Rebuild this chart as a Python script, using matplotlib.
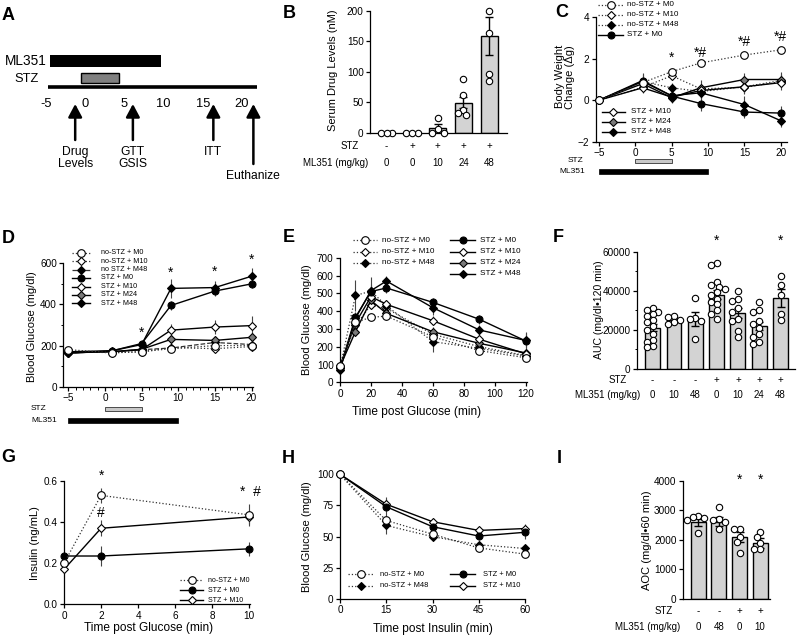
import matplotlib.pyplot as plt
import matplotlib.transforms as mtransforms
from matplotlib.lines import Line2D
from matplotlib.patches import Rectangle
from matplotlib.ticker import MultipleLocator
import numpy as np

plt.rcParams['font.family'] = ['Liberation Sans', 'DejaVu Sans']

# ---------------- data ----------------
# A: study timeline (days)
a_ticks = [-5, 0, 5, 10, 15, 20]
a_ml351 = (-4.5, 9.7)
a_stz = (-0.55, 4.35)
a_events = ['Drug\nLevels', 'GTT\nGSIS', 'ITT', 'Euthanize']
a_event_days = [-1.25, 6.1, 16.35, 21.45]

# B: serum drug levels
b_stz = ['-', '+', '+', '+', '+']
b_dose = ['0', '0', '10', '24', '48']
b_mean = [0, 0, 8, 49, 158]
b_sem = [0, 0, 5.5, 9, 31]
b_points = [[0, 0, 0], [0, 0, 0], [24, 6, 0, 0], [88, 61, 37, 29, 32], [200, 164, 96, 85]]

# C: body weight change
c_days = [-5, 1, 5, 9, 15, 20]
c_nostz_m0 = [0, 0.85, 1.38, 1.8, 2.18, 2.43]
c_nostz_m10 = [0, 0.62, 1.18, 0.55, 0.62, 0.9]
c_nostz_m48 = [0, 0.9, 0.6, 0.42, 0.65, 0.95]
c_stz_m0 = [0, 0.95, 0.2, -0.16, -0.57, -0.62]
c_stz_m10 = [0, 0.6, 0.15, 0.47, 0.65, 0.85]
c_stz_m24 = [0, 0.8, 0.12, 0.6, 1.0, 1.0]
c_stz_m48 = [0, 0.9, 0.22, 0.36, -0.21, -0.99]
c_err_nostz_m0 = [0, 0.2, 0.15, 0.15, 0.12, 0.15]
c_err_nostz_m10 = [0, 0.2, 0.2, 0.2, 0.2, 0.2]
c_err_nostz_m48 = [0, 0.2, 0.25, 0.3, 0.3, 0.3]
c_err_stz_m0 = [0, 0.3, 0.3, 0.35, 0.3, 0.35]
c_err_stz_m10 = [0, 0.25, 0.25, 0.3, 0.35, 0.35]
c_err_stz_m24 = [0, 0.3, 0.25, 0.4, 0.3, 0.35]
c_err_stz_m48 = [0, 0.4, 0.3, 0.3, 0.4, 0.3]

# D: blood glucose over study
d_days = [-5, 1, 5, 9, 15, 20]
d_nostz_m0 = [180, 165, 170, 185, 200, 200]
d_nostz_m10 = [172, 165, 170, 190, 185, 195]
d_nostz_m48 = [165, 170, 180, 188, 215, 205]
d_stz_m0 = [170, 175, 210, 395, 465, 500]
d_stz_m10 = [170, 170, 180, 275, 290, 297]
d_stz_m24 = [165, 170, 182, 230, 225, 240]
d_stz_m48 = [162, 175, 205, 478, 482, 537]
d_err_nostz = [8, 8, 8, 10, 12, 12]
d_err_stz_m0 = [8, 10, 15, 20, 25, 20]
d_err_stz_m10 = [8, 10, 10, 30, 35, 45]
d_err_stz_m24 = [8, 8, 10, 20, 20, 20]
d_err_stz_m48 = [8, 10, 15, 45, 30, 40]

# E: glucose tolerance test
e_min = [0, 10, 20, 30, 60, 90, 120]
e_nostz_m0 = [90, 337, 365, 372, 256, 178, 138]
e_nostz_m10 = [90, 320, 434, 415, 270, 200, 150]
e_nostz_m48 = [80, 488, 512, 430, 228, 191, 148]
e_stz_m0 = [80, 365, 510, 530, 449, 354, 232]
e_stz_m10 = [90, 333, 481, 438, 346, 242, 160]
e_stz_m24 = [88, 285, 460, 387, 284, 219, 165]
e_stz_m48 = [70, 360, 515, 569, 419, 294, 235]
e_err_nostz_m0 = [10, 20, 15, 20, 20, 15, 10]
e_err_nostz_m10 = [10, 20, 25, 25, 20, 15, 10]
e_err_nostz_m48 = [10, 85, 30, 30, 55, 25, 15]
e_err_stz_m0 = [10, 30, 40, 30, 25, 25, 50]
e_err_stz_m10 = [10, 25, 25, 25, 25, 20, 15]
e_err_stz_m24 = [10, 25, 30, 25, 25, 20, 15]
e_err_stz_m48 = [10, 30, 75, 30, 40, 30, 40]

# F: GTT area under curve
f_stz = ['-', '-', '-', '+', '+', '+', '+']
f_dose = ['0', '10', '48', '0', '10', '24', '48']
f_mean = [21000, 25000, 25700, 38000, 28500, 22000, 36300]
f_sem = [1800, 900, 3500, 2300, 2600, 2200, 4400]
f_points = [
    [31000, 30000, 29000, 28000, 27000, 25000, 24000, 22000, 20000, 18000, 15000, 14000, 12000, 11000],
    [27000, 26500, 25000, 24000, 23000],
    [36500, 26000, 25500, 24500, 15500],
    [54000, 53000, 44500, 43000, 42000, 41000, 39500, 38000, 36000, 34500, 33000, 30000, 28000, 25500],
    [40000, 36000, 35000, 31000, 29000, 25500, 24500, 19500, 16500],
    [34500, 30000, 29000, 24500, 23000, 21000, 18000, 16500, 14000, 13000],
    [47500, 43000, 38000, 28000, 25000],
]

# G: insulin (GSIS)
g_min = [0, 2, 10]
g_nostz_m0 = [0.20, 0.53, 0.435]
g_stz_m0 = [0.235, 0.235, 0.27]
g_stz_m10 = [0.17, 0.37, 0.425]
g_err_nostz_m0 = [0.03, 0.035, 0.055]
g_err_stz_m0 = [0.005, 0.05, 0.035]
g_err_stz_m10 = [0.02, 0.04, 0.035]

# H: insulin tolerance test
h_min = [0, 15, 30, 45, 60]
h_nostz_m0 = [100, 63, 52, 41, 36]
h_nostz_m48 = [100, 59, 50, 43.5, 40.5]
h_stz_m0 = [100, 74, 58, 50.5, 53.5]
h_stz_m10 = [100, 76, 62, 55, 56.5]
h_err_nostz_m0 = [0, 3, 2, 2, 2]
h_err_nostz_m48 = [0, 7, 2, 2, 2]
h_err_stz_m0 = [0, 8, 4, 3, 5]
h_err_stz_m10 = [0, 4, 3, 2, 4]

# I: ITT area over curve
i_stz = ['-', '-', '+', '+']
i_dose = ['0', '48', '0', '10']
i_mean = [2600, 2620, 2100, 1900]
i_sem = [120, 150, 160, 170]
i_points = [[2810, 2760, 2730, 2670, 2220], [3105, 2700, 2674, 2616, 2357],
            [2374, 2374, 2086, 1940, 1542], [2256, 2110, 1903, 1700, 1678]]

# ---------------- styling ----------------
W, H = 797, 642
fig = plt.figure(figsize=(W / 100, H / 100), dpi=100)

styles = {
    'no-STZ + M0': dict(marker='o', mfc='white', ls=':', ms=5.5),
    'no-STZ + M10': dict(marker='D', mfc='white', ls=':', ms=3.8),
    'no-STZ + M48': dict(marker='D', mfc='black', ls=':', ms=3.8),
    'STZ + M0': dict(marker='o', mfc='black', ls='-', ms=5),
    'STZ + M10': dict(marker='D', mfc='white', ls='-', ms=3.8),
    'STZ + M24': dict(marker='D', mfc='#7a7a7a', ls='-', ms=3.8),
    'STZ + M48': dict(marker='D', mfc='black', ls='-', ms=3.8),
}


def fx(x):
    return x / W


def fy(y):
    return 1 - y / H


def add_ax(x0, x1, ytop, ybot):
    ax = fig.add_axes([fx(x0), fy(ybot), (x1 - x0) / W, (ybot - ytop) / H])
    for s in ['top', 'right']:
        ax.spines[s].set_visible(False)
    for s in ['left', 'bottom']:
        ax.spines[s].set_linewidth(0.9)
    ax.tick_params(direction='out', length=3, width=0.9, labelsize=7.2, pad=1.5)
    ax.tick_params(which='minor', direction='out', length=1.8, width=0.7)
    ax.patch.set_alpha(0)
    return ax


def line_kw(name, ls=None):
    st = styles[name]
    ls = ls or st['ls']
    return dict(ls=ls, color='#333333' if ls != '-' else 'black', lw=1.0 if ls == '-' else 0.9,
                marker=st['marker'], ms=st['ms'], mfc=st['mfc'], mec='black', mew=0.8)


def series(ax, x, y, err, name, ls=None):
    ax.errorbar(x, y, yerr=err, fmt='none', ecolor='#444444', elinewidth=0.8, capsize=0,
                clip_on=False, zorder=2)
    ax.plot(x, y, clip_on=False, zorder=3, **line_kw(name, ls))


def legend_rows(names, x0, x1, xt, ys, fs, labels=None, lss=None):
    labels = labels or names
    lss = lss or [None] * len(names)
    for name, lab, y, ls in zip(names, labels, ys, lss):
        kw = line_kw(name, ls)
        xm = (x0 + x1) / 2
        fig.add_artist(Line2D([fx(x0), fx(xm), fx(x1)], [fy(y)] * 3, transform=fig.transFigure,
                              markevery=[1], **kw))
        fig.text(fx(xt), fy(y), lab, fontsize=fs, ha='left', va='center')


def ylabel(x, y, text, fs=8):
    fig.text(fx(x), fy(y), text, rotation=90, ha='center', va='center', fontsize=fs,
             multialignment='center', linespacing=1.1)


def panel_letter(x, y, letter):
    fig.text(fx(x), fy(y), letter, fontsize=13, fontweight='bold', ha='left', va='baseline')


def swarm(ax, xc, vals, ms_px):
    placed, out = [], [0.0] * len(vals)
    for i in np.argsort(vals)[::-1]:
        xp0, yp = ax.transData.transform((xc, vals[i]))
        for k in [0, -1, 1, -2, 2, -3, 3, -4, 4, -5, 5]:
            xp = xp0 + k * ms_px * 0.45
            if all(np.hypot(xp - a, yp - b) >= ms_px * 0.8 for a, b in placed):
                break
        placed.append((xp, yp))
        out[i] = ax.transData.inverted().transform((xp, yp))[0]
    return out


def bar_panel(ax, means, sems, points, stz, dose, width, ys_rows, xr_rows):
    x = np.arange(len(means))
    ax.bar(x, means, width, color='#d3d3d3', edgecolor='black', linewidth=1, zorder=1)
    ax.errorbar(x, means, yerr=sems, fmt='none', ecolor='black', elinewidth=1, capsize=3,
                capthick=1, zorder=2)
    for i, pts in enumerate(points):
        xs = swarm(ax, i, pts, 6.4)
        ax.plot(xs, pts, ls='none', marker='o', ms=4.6, mfc='white', mec='black', mew=0.8,
                clip_on=False, zorder=3)
    ax.set_xticks([])
    ax.spines['bottom'].set_position(('data', 0))
    tr = mtransforms.blended_transform_factory(ax.transData, fig.transFigure)
    for i, (s, d) in enumerate(zip(stz, dose)):
        ax.text(i, fy(ys_rows[0]), s, transform=tr, ha='center', va='center', fontsize=7)
        ax.text(i, fy(ys_rows[1]), d, transform=tr, ha='center', va='center', fontsize=7)
    fig.text(fx(xr_rows[0]), fy(ys_rows[0]), 'STZ', ha='right', va='center', fontsize=7)
    fig.text(fx(xr_rows[1]), fy(ys_rows[1]), 'ML351 (mg/kg)', ha='right', va='center', fontsize=7)


def treatment_bars(ax, y_stz, y_ml, xr_stz, xr_ml):
    tr = mtransforms.blended_transform_factory(ax.transData, fig.transFigure)
    ax.add_patch(Rectangle((0, fy(y_stz + 4)), 5, 4 / H, transform=tr, facecolor='#c8c8c8',
                           edgecolor='#333333', lw=0.6, clip_on=False))
    ax.add_patch(Rectangle((-5, fy(y_ml + 4.5)), 15, 4.5 / H, transform=tr, facecolor='black',
                           edgecolor='black', lw=0.5, clip_on=False))
    fig.text(fx(xr_stz), fy(y_stz + 2), 'STZ', ha='right', va='center', fontsize=6)
    fig.text(fx(xr_ml), fy(y_ml + 2.2), 'ML351', ha='right', va='center', fontsize=6)


def stars(ax, xs, ys, texts, fs=10):
    for x, y, t in zip(xs, ys, texts):
        ax.text(x, y, t, ha='center', va='center', fontsize=fs, clip_on=False)


# ---------------- A ----------------
axA = fig.add_axes([0, fy(200), fx(270), 200 / H])
axA.axis('off')
axA.set_xlim(-85 / 7.85, (270 - 85) / 7.85)
axA.set_ylim(200, 0)
axA.plot([-4.68, 21.9], [87.3, 87.3], color='black', lw=2.6, solid_capstyle='butt')
axA.add_patch(Rectangle((a_ml351[0], 55), a_ml351[1] - a_ml351[0], 11.5, facecolor='black'))
axA.add_patch(Rectangle((a_stz[0], 73), a_stz[1] - a_stz[0], 9.5, facecolor='#808080',
                        edgecolor='black', lw=1))
fig.text(fx(46.7), fy(61), 'ML351', ha='right', va='center', fontsize=9.8)
fig.text(fx(38.5), fy(78.5), 'STZ', ha='right', va='center', fontsize=9.3)
for t in a_ticks:
    axA.text(t, 104, f'{t}', ha='center', va='center', fontsize=9.3)
for d, lab in zip(a_event_days, a_events):
    tail = 164 if lab == 'Euthanize' else 140
    axA.annotate('', xy=(d, 104), xytext=(d, tail),
                 arrowprops=dict(arrowstyle='-|>,head_length=0.6,head_width=0.32', lw=1.8,
                                 color='black', mutation_scale=13, shrinkA=0, shrinkB=0))
    axA.text(d, tail + 6, lab, ha='center', va='top', fontsize=8.7, linespacing=1.05)
panel_letter(1.7, 20, 'A')

# ---------------- B ----------------
axB = add_ax(370, 507, 10.7, 132.7)
axB.set_xlim(-0.65, 4.7)
axB.set_ylim(0, 200)
axB.set_yticks([0, 50, 100, 150, 200])
bar_panel(axB, b_mean, b_sem, b_points, b_stz, b_dose, 0.66, (145.7, 162.7), (359.3, 368.3))
ylabel(333.3, 70, 'Serum Drug Levels (nM)')
panel_letter(282.7, 18.3, 'B')

# ---------------- C ----------------
axC = add_ax(595.7, 786.7, 17.3, 141.7)
axC.set_xlim(-5.44, 20.8)
axC.set_ylim(-2, 4)
axC.set_xticks([-5, 0, 5, 10, 15, 20])
axC.set_yticks([-2, 0, 2, 4])
series(axC, c_days, c_nostz_m10, c_err_nostz_m10, 'no-STZ + M10')
series(axC, c_days, c_nostz_m48, c_err_nostz_m48, 'no-STZ + M48')
series(axC, c_days, c_stz_m24, c_err_stz_m24, 'STZ + M24')
series(axC, c_days, c_stz_m10, c_err_stz_m10, 'STZ + M10')
series(axC, c_days, c_stz_m48, c_err_stz_m48, 'STZ + M48')
series(axC, c_days, c_stz_m0, c_err_stz_m0, 'STZ + M0')
series(axC, c_days, c_nostz_m0, c_err_nostz_m0, 'no-STZ + M0')
stars(axC, [5, 9, 15, 20], [2.05, 2.3, 2.8, 3.05], ['*', '*#', '*#', '*#'])
legend_rows(['no-STZ + M0', 'no-STZ + M10', 'no-STZ + M48', 'STZ + M0'],
            598, 623, 626.7, [5, 15, 25, 35], 5.8)
legend_rows(['STZ + M10', 'STZ + M24', 'STZ + M48'], 601.7, 625, 630.7,
            [111.7, 121.7, 131.7], 5.8)
treatment_bars(axC, 159, 169.5, 583.3, 585)
ylabel(565, 76.7, 'Body Weight\nChange (Δg)', fs=8)
panel_letter(555, 16.7, 'C')

# ---------------- D ----------------
axD = add_ax(63.3, 253, 263.3, 386.7)
axD.set_xlim(-5.7, 20.2)
axD.set_ylim(0, 600)
axD.set_xticks([-5, 0, 5, 10, 15, 20])
axD.set_yticks([0, 200, 400, 600])
axD.xaxis.set_minor_locator(MultipleLocator(1))
axD.yaxis.set_minor_locator(MultipleLocator(100))
series(axD, d_days, d_nostz_m10, d_err_nostz, 'no-STZ + M10')
series(axD, d_days, d_nostz_m48, d_err_nostz, 'no-STZ + M48', ls='--')
series(axD, d_days, d_stz_m24, d_err_stz_m24, 'STZ + M24')
series(axD, d_days, d_stz_m10, d_err_stz_m10, 'STZ + M10')
series(axD, d_days, d_stz_m48, d_err_stz_m48, 'STZ + M48')
series(axD, d_days, d_stz_m0, d_err_stz_m0, 'STZ + M0')
series(axD, d_days, d_nostz_m0, d_err_nostz, 'no-STZ + M0')
stars(axD, [5, 9, 15, 20], [262, 552, 560, 618], ['*'] * 4)
legend_rows(['no-STZ + M0', 'no-STZ + M10', 'no-STZ + M48', 'STZ + M0', 'STZ + M10',
             'STZ + M24', 'STZ + M48'], 72, 90, 101,
            [252.7, 261.2, 269.6, 278, 286.5, 294.9, 303.4], 5.2,
            labels=['no-STZ + M0', 'no-STZ + M10', 'no STZ + M48', 'STZ + M0', 'STZ + M10',
                    'STZ + M24', 'STZ + M48'],
            lss=[None, None, '--', None, None, None, None])
treatment_bars(axD, 406.5, 418, 46, 57.4)
ylabel(31.7, 326.7, 'Blood Glucose (mg/dl)')
panel_letter(1.7, 243.3, 'D')

# ---------------- E ----------------
axE = add_ax(340, 527, 257.7, 382.3)
axE.set_xlim(0, 120.8)
axE.set_ylim(0, 700)
axE.set_xticks([0, 20, 40, 60, 80, 100, 120])
axE.set_yticks(np.arange(0, 701, 100))
series(axE, e_min, e_nostz_m10, e_err_nostz_m10, 'no-STZ + M10')
series(axE, e_min, e_nostz_m48, e_err_nostz_m48, 'no-STZ + M48')
series(axE, e_min, e_stz_m24, e_err_stz_m24, 'STZ + M24')
series(axE, e_min, e_stz_m10, e_err_stz_m10, 'STZ + M10')
series(axE, e_min, e_stz_m48, e_err_stz_m48, 'STZ + M48')
series(axE, e_min, e_stz_m0, e_err_stz_m0, 'STZ + M0')
series(axE, e_min, e_nostz_m0, e_err_nostz_m0, 'no-STZ + M0')
legend_rows(['no-STZ + M0', 'no-STZ + M10', 'no-STZ + M48'], 353.3, 376.7, 381.7,
            [240, 251.7, 262.7], 5.9)
legend_rows(['STZ + M0', 'STZ + M10', 'STZ + M24', 'STZ + M48'], 450, 475, 480,
            [240, 251.7, 262.7, 274], 5.9)
fig.text(fx(416.7), fy(411.7), 'Time post Glucose (min)', ha='center', va='center', fontsize=8.6)
ylabel(307.3, 320, 'Blood Glucose (mg/dl)')
panel_letter(282.7, 241.7, 'E')

# ---------------- F ----------------
axF = add_ax(636.7, 795, 251.7, 369)
axF.set_xlim(-0.75, 6.68)
axF.set_ylim(0, 60000)
axF.set_yticks([0, 20000, 40000, 60000])
axF.yaxis.set_minor_locator(MultipleLocator(10000))
bar_panel(axF, f_mean, f_sem, f_points, f_stz, f_dose, 0.7, (380, 395), (627.3, 640))
stars(axF, [3, 6], [65500, 65500], ['*', '*'])
ylabel(599.5, 310, 'AUC (mg/dl•120 min)', fs=7.6)
panel_letter(553, 241.7, 'F')

# ---------------- G ----------------
axG = add_ax(64, 250, 481, 604.3)
axG.set_xlim(0, 10.04)
axG.set_ylim(0, 0.6)
axG.set_xticks([0, 2, 4, 6, 8, 10])
axG.set_yticks([0, 0.2, 0.4, 0.6])
axG.set_yticklabels(['0.0', '0.2', '0.4', '0.6'])
series(axG, g_min, g_stz_m10, g_err_stz_m10, 'STZ + M10')
series(axG, g_min, g_stz_m0, g_err_stz_m0, 'STZ + M0')
series(axG, g_min, g_nostz_m0, g_err_nostz_m0, 'no-STZ + M0')
stars(axG, [2, 2, 10.05], [0.625, 0.445, 0.545], ['*', '#', '*  #'])
legend_rows(['no-STZ + M0', 'STZ + M0', 'STZ + M10'], 180, 203.3, 208.3, [580, 590, 600], 5)
fig.text(fx(148.3), fy(628), 'Time post Glucose (min)', ha='center', va='center', fontsize=8.6)
ylabel(35, 543.3, 'Insulin (ng/mL)')
panel_letter(1.7, 461.7, 'G')

# ---------------- H ----------------
axH = add_ax(340, 525, 474.3, 599)
axH.set_xlim(0, 60)
axH.set_ylim(0, 100)
axH.set_xticks([0, 15, 30, 45, 60])
axH.set_yticks([0, 25, 50, 75, 100])
series(axH, h_min, h_nostz_m48, h_err_nostz_m48, 'no-STZ + M48')
series(axH, h_min, h_stz_m10, h_err_stz_m10, 'STZ + M10')
series(axH, h_min, h_stz_m0, h_err_stz_m0, 'STZ + M0')
series(axH, h_min, h_nostz_m0, h_err_nostz_m0, 'no-STZ + M0')
legend_rows(['no-STZ + M0', 'no-STZ + M48'], 348.3, 373.3, 380, [574, 585.7], 5.4)
legend_rows(['STZ + M0', 'STZ + M10'], 450, 475, 482.7, [574, 585.7], 5.4)
fig.text(fx(433.3), fy(629), 'Time post Insulin (min)', ha='center', va='center', fontsize=8.6)
ylabel(306.7, 536.7, 'Blood Glucose (mg/dl)')
panel_letter(281.7, 463.3, 'H')

# ---------------- I ----------------
axI = add_ax(682.7, 770, 481, 598.7)
axI.set_xlim(-0.76, 3.48)
axI.set_ylim(0, 4000)
axI.set_yticks([0, 1000, 2000, 3000, 4000])
bar_panel(axI, i_mean, i_sem, i_points, i_stz, i_dose, 0.73, (610.7, 626.7), (673.3, 680))
stars(axI, [2, 3], [4050, 4050], ['*', '*'])
ylabel(646.7, 540, 'AOC (mg/dl•60 min)')
panel_letter(556.7, 463.3, 'I')

fig.savefig('out.png', dpi=100)
